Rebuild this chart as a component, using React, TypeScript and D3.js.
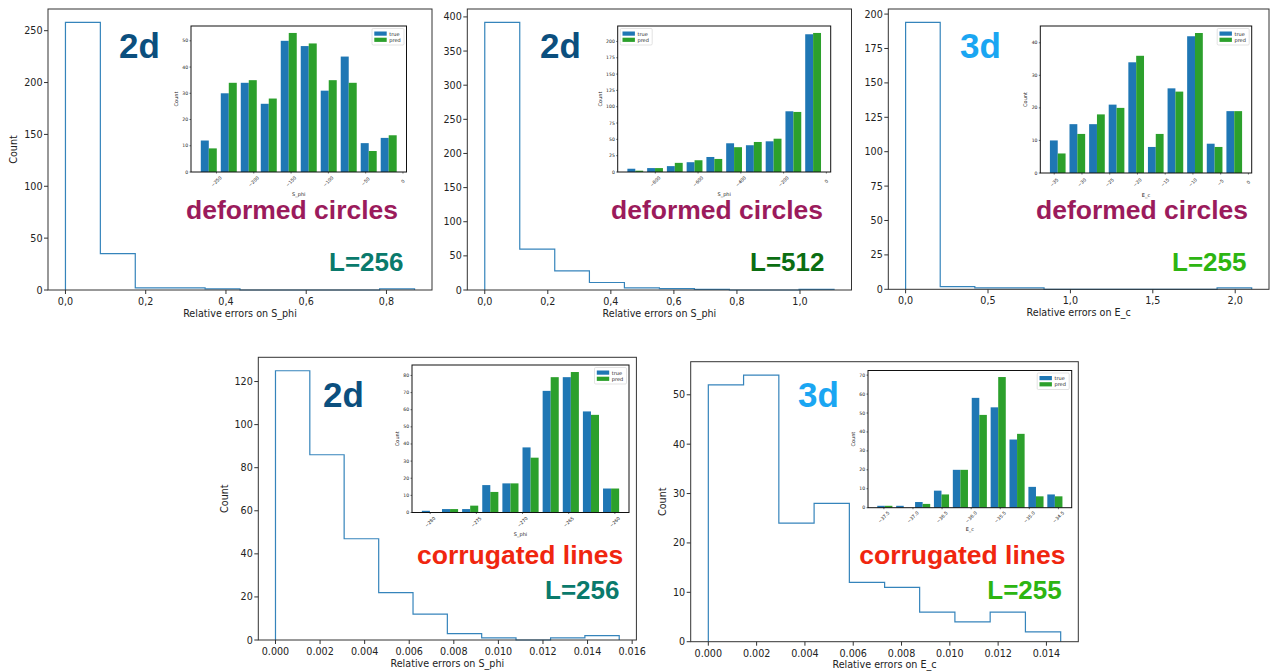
import { curveStepAfter, line, max, scaleLinear } from "d3";

// ---- panel A: 2d, deformed circles, L=256 ----
const errEdgesA = [0, 0.087, 0.174, 0.261, 0.348, 0.435, 0.522, 0.609, 0.696, 0.783, 0.87];
const errCountsA = [258, 35, 2, 2, 1, 0, 0, 0, 0, 1];
const errTicksA = [0, 0.2, 0.4, 0.6, 0.8];
const countTicksA = [0, 50, 100, 150, 200, 250];
const binCentersA = [-260.3, -233.5, -206.7, -179.9, -153.1, -126.3, -99.5, -72.7, -45.9, -19.1];
const trueCountsA = [12, 30, 34, 26, 50, 48, 31, 44, 11, 13];
const predCountsA = [9, 34, 35, 28, 53, 49, 35, 34, 8, 14];
const insetXTicksA = [-250, -200, -150, -100, -50, 0];
const insetYTicksA = [0, 10, 20, 30, 40, 50];

// ---- panel B: 2d, deformed circles, L=512 ----
const errEdgesB = [0, 0.111, 0.222, 0.332, 0.443, 0.554, 0.665, 0.776, 0.886, 0.997, 1.108];
const errCountsB = [392, 60, 28, 11, 3, 2, 1, 0, 0, 1];
const errTicksB = [0, 0.2, 0.4, 0.6, 0.8, 1.0];
const countTicksB = [0, 50, 100, 150, 200, 250, 300, 350, 400];
const binCentersB = [-893.6, -801.2, -708.8, -616.4, -524.0, -431.6, -339.2, -246.8, -154.4, -62.0];
const trueCountsB = [5, 6, 9, 15, 23, 44, 41, 47, 93, 211];
const predCountsB = [2, 6, 14, 18, 20, 38, 46, 51, 92, 213];
const insetXTicksB = [-800, -600, -400, -200, 0];
const insetYTicksB = [0, 25, 50, 75, 100, 125, 150, 175, 200];

// ---- panel C: 3d, deformed circles, L=255 ----
const errEdgesC = [0, 0.21, 0.42, 0.63, 0.84, 1.05, 1.26, 1.47, 1.68, 1.89, 2.1];
const errCountsC = [194, 2, 1, 1, 0, 0, 0, 0, 0, 1];
const errTicksC = [0, 0.5, 1.0, 1.5, 2.0];
const countTicksC = [0, 25, 50, 75, 100, 125, 150, 175, 200];
const binCentersC = [-34.37, -30.84, -27.3, -23.77, -20.23, -16.7, -13.16, -9.63, -6.09, -2.55];
const trueCountsC = [10, 15, 15, 21, 34, 8, 26, 42, 9, 19];
const predCountsC = [6, 12, 18, 20, 36, 12, 25, 43, 8, 19];
const insetXTicksC = [-35, -30, -25, -20, -15, -10, -5, 0];
const insetYTicksC = [0, 10, 20, 30, 40];

// ---- panel D: 2d, corrugated lines, L=256 ----
const errEdgesD = [0, 0.00154, 0.00308, 0.00463, 0.00617, 0.00771, 0.00925, 0.01079, 0.01234, 0.01388, 0.01542];
const errCountsD = [125, 86, 47, 22, 12, 3, 1, 0, 1, 2];
const errTicksD = [0, 0.002, 0.004, 0.006, 0.008, 0.01, 0.012, 0.014, 0.016];
const countTicksD = [0, 20, 40, 60, 80, 100, 120];
const binCentersD = [-280.03, -277.85, -275.67, -273.49, -271.31, -269.13, -266.95, -264.77, -262.59, -260.41];
const trueCountsD = [1, 2, 2, 16, 17, 38, 71, 79, 59, 14];
const predCountsD = [0, 2, 4, 12, 17, 32, 79, 82, 57, 14];
const insetXTicksD = [-280, -275, -270, -265, -260];
const insetYTicksD = [0, 10, 20, 30, 40, 50, 60, 70, 80];

// ---- panel E: 3d, corrugated lines, L=255 ----
const errEdgesE = [0, 0.00146, 0.00292, 0.00438, 0.00584, 0.0073, 0.00875, 0.01021, 0.01167, 0.01313, 0.01459];
const errCountsE = [52, 54, 24, 28, 12, 11, 6, 4, 6, 2];
const errTicksE = [0, 0.002, 0.004, 0.006, 0.008, 0.01, 0.012, 0.014];
const countTicksE = [0, 10, 20, 30, 40, 50];
const binCentersE = [-37.484, -37.159, -36.834, -36.51, -36.185, -35.86, -35.535, -35.211, -34.886, -34.561];
const trueCountsE = [1, 1, 3, 9, 20, 58, 53, 36, 11, 7];
const predCountsE = [1, 0, 2, 7, 20, 49, 69, 39, 6, 6];
const insetXTicksE = [-37.5, -37.0, -36.5, -36.0, -35.5, -35.0, -34.5];
const insetYTicksE = [0, 10, 20, 30, 40, 50, 60, 70];

const MPL_FONT = "'DejaVu Sans', sans-serif";
const TAG_FONT = "'Liberation Sans', Arial, Helvetica, sans-serif";
const TRUE_COLOR = "#1f77b4";
const PRED_COLOR = "#2ca02c";
const MINUS = "\u2212";

type Frame = { l: number; t: number; r: number; b: number };

function withMargin(lo: number, hi: number): [number, number] {
  const pad = (hi - lo) * 0.05;
  return [lo - pad, hi + pad];
}

function signed(text: string) {
  return text.replace("-", MINUS);
}

type HistProps = {
  frame: Frame;
  edges: number[];
  counts: number[];
  xTicks: number[];
  yTicks: number[];
  formatX: (v: number) => string;
  xLabel: string;
  showYLabel: boolean;
};

function ErrorHistogram({ frame, edges, counts, xTicks, yTicks, formatX, xLabel, showYLabel }: HistProps) {
  const last = edges.length - 1;
  const xScale = scaleLinear().domain(withMargin(edges[0], edges[last])).range([frame.l, frame.r]);
  const yScale = scaleLinear()
    .domain([0, (max(counts) ?? 1) * 1.05])
    .range([frame.b, frame.t]);

  const outline = [
    { x: edges[0], y: 0 },
    ...counts.map((c, i) => ({ x: edges[i], y: c })),
    { x: edges[last], y: counts[counts.length - 1] },
    { x: edges[last], y: 0 }
  ];
  const path = line<{ x: number; y: number }>()
    .x((p) => xScale(p.x))
    .y((p) => yScale(p.y))
    .curve(curveStepAfter)(outline);

  const widest = Math.max(...yTicks.map((t) => String(t).length));
  const yLabelX = frame.l - (5.5 + widest * 6.1 + 7);

  return (
    <g fontFamily={MPL_FONT} fill="#222">
      {path ? <path d={path} fill="none" stroke={TRUE_COLOR} strokeWidth={1.2} strokeOpacity={0.9} /> : null}
      <rect
        x={frame.l}
        y={frame.t}
        width={frame.r - frame.l}
        height={frame.b - frame.t}
        fill="none"
        stroke="#333"
        strokeWidth={1}
      />
      {yTicks.map((t) => (
        <g key={`y${t}`}>
          <line x1={frame.l - 4} x2={frame.l} y1={yScale(t)} y2={yScale(t)} stroke="#333" />
          <text x={frame.l - 5.5} y={yScale(t)} fontSize={9.6} textAnchor="end" dominantBaseline="central">
            {t}
          </text>
        </g>
      ))}
      {xTicks.map((t) => (
        <g key={`x${t}`}>
          <line x1={xScale(t)} x2={xScale(t)} y1={frame.b} y2={frame.b + 4} stroke="#333" />
          <text x={xScale(t)} y={frame.b + 15} fontSize={9.6} textAnchor="middle">
            {formatX(t)}
          </text>
        </g>
      ))}
      <text x={(frame.l + frame.r) / 2} y={frame.b + 26.5} fontSize={9.6} textAnchor="middle">
        {xLabel}
      </text>
      {showYLabel ? (
        <text
          transform={`translate(${yLabelX},${(frame.t + frame.b) / 2}) rotate(-90)`}
          fontSize={9.6}
          textAnchor="middle"
        >
          Count
        </text>
      ) : null}
    </g>
  );
}

type InsetProps = {
  frame: Frame;
  centers: number[];
  trueVals: number[];
  predVals: number[];
  xTicks: number[];
  yTicks: number[];
  formatX: (v: number) => string;
  xLabel: string;
  legendLeft?: boolean;
};

function TruePredInset({ frame, centers, trueVals, predVals, xTicks, yTicks, formatX, xLabel, legendLeft }: InsetProps) {
  const barWidth = (centers[1] - centers[0]) * 0.4;
  const lo = centers[0] - barWidth;
  const hi = centers[centers.length - 1] + barWidth;
  const xScale = scaleLinear().domain(withMargin(lo, hi)).range([frame.l, frame.r]);
  const yScale = scaleLinear()
    .domain([0, (max([...trueVals, ...predVals]) ?? 1) * 1.05])
    .range([frame.b, frame.t]);
  const px = xScale(centers[0]) - xScale(centers[0] - barWidth);

  const widest = Math.max(...yTicks.map((t) => String(t).length));
  const countX = frame.l - (9.3 + widest * 2.86);

  const boxW = 32;
  const boxH = 16.5;
  const boxX = legendLeft ? frame.l + 2.5 : frame.r - 2.5 - boxW;
  const boxY = frame.t + 2.5;

  return (
    <g fontFamily={MPL_FONT} fill="#222">
      <rect x={frame.l} y={frame.t} width={frame.r - frame.l} height={frame.b - frame.t} fill="#fff" />
      {centers.map((c, i) => (
        <g key={`bar${i}`}>
          <rect
            x={xScale(c - barWidth)}
            y={yScale(trueVals[i])}
            width={px}
            height={frame.b - yScale(trueVals[i])}
            fill={TRUE_COLOR}
          />
          <rect
            x={xScale(c)}
            y={yScale(predVals[i])}
            width={px}
            height={frame.b - yScale(predVals[i])}
            fill={PRED_COLOR}
          />
        </g>
      ))}
      <rect
        x={frame.l}
        y={frame.t}
        width={frame.r - frame.l}
        height={frame.b - frame.t}
        fill="none"
        stroke="#111"
        strokeWidth={1}
      />
      {yTicks.map((t) => (
        <g key={`iy${t}`}>
          <line x1={frame.l - 1.5} x2={frame.l} y1={yScale(t)} y2={yScale(t)} stroke="#111" strokeWidth={0.6} />
          <text x={frame.l - 2.8} y={yScale(t)} fontSize={4.6} textAnchor="end" dominantBaseline="central">
            {t}
          </text>
        </g>
      ))}
      {xTicks.map((t) => (
        <g key={`ix${t}`}>
          <line x1={xScale(t)} x2={xScale(t)} y1={frame.b} y2={frame.b + 1.5} stroke="#111" strokeWidth={0.6} />
          <text
            transform={`translate(${xScale(t)},${frame.b + 9.5}) rotate(-45)`}
            fontSize={4.6}
            textAnchor="middle"
            dominantBaseline="central"
          >
            {formatX(t)}
          </text>
        </g>
      ))}
      <text x={(frame.l + frame.r) / 2} y={frame.b + 23.5} fontSize={5} textAnchor="middle">
        {xLabel}
      </text>
      <text
        transform={`translate(${countX},${(frame.t + frame.b) / 2}) rotate(-90)`}
        fontSize={5}
        textAnchor="middle"
        dominantBaseline="central"
      >
        Count
      </text>
      <rect x={boxX} y={boxY} width={boxW} height={boxH} rx={1.2} fill="#fff" fillOpacity={0.85} stroke="#d0d0d0" strokeWidth={0.6} />
      {[
        { name: "true", color: TRUE_COLOR },
        { name: "pred", color: PRED_COLOR }
      ].map((item, i) => (
        <g key={item.name}>
          <rect x={boxX + 2.3} y={boxY + 3 + i * 6.2} width={12.4} height={4.2} fill={item.color} />
          <text x={boxX + 17.3} y={boxY + 5.1 + i * 6.2} fontSize={5} dominantBaseline="central">
            {item.name}
          </text>
        </g>
      ))}
    </g>
  );
}

type TagProps = { x: number; y: number; size: number; color: string; text: string };

function Tag({ x, y, size, color, text }: TagProps) {
  return (
    <text x={x} y={y} fontFamily={TAG_FONT} fontWeight="bold" fontSize={size} fill={color}>
      {text}
    </text>
  );
}

const comma1 = (v: number) => v.toFixed(1).replace(".", ",");
const fixed3 = (v: number) => v.toFixed(3);
const intTick = (v: number) => signed(String(v));
const oneDec = (v: number) => signed(v.toFixed(1));

const DIM_BLUE = "#0b4f7e";
const SKY_BLUE = "#1aa6f2";
const PLUM = "#9b1b5c";
const RED = "#f0260f";
const TEAL = "#0a7a6c";
const DARK_GREEN = "#0b6e12";
const LIME = "#2db512";

export default function App() {
  return (
    <svg
      width={1270}
      height={671}
      viewBox="0 0 1270 671"
      style={{ position: "absolute", left: 0, top: 0, background: "#fff" }}
    >
      {/* top row */}
      <ErrorHistogram
        frame={{ l: 48, t: 9, r: 432, b: 290 }}
        edges={errEdgesA}
        counts={errCountsA}
        xTicks={errTicksA}
        yTicks={countTicksA}
        formatX={comma1}
        xLabel="Relative errors on S_phi"
        showYLabel
      />
      <TruePredInset
        frame={{ l: 191, t: 26, r: 406.5, b: 172 }}
        centers={binCentersA}
        trueVals={trueCountsA}
        predVals={predCountsA}
        xTicks={insetXTicksA}
        yTicks={insetYTicksA}
        formatX={intTick}
        xLabel="S_phi"
      />
      <Tag x={119} y={58} size={35} color={DIM_BLUE} text="2d" />
      <Tag x={186} y={219} size={26.5} color={PLUM} text="deformed circles" />
      <Tag x={329} y={271} size={26} color={TEAL} text="L=256" />

      <ErrorHistogram
        frame={{ l: 467.3, t: 9, r: 851.5, b: 290 }}
        edges={errEdgesB}
        counts={errCountsB}
        xTicks={errTicksB}
        yTicks={countTicksB}
        formatX={comma1}
        xLabel="Relative errors on S_phi"
        showYLabel={false}
      />
      <TruePredInset
        frame={{ l: 617.7, t: 26, r: 830.7, b: 172 }}
        centers={binCentersB}
        trueVals={trueCountsB}
        predVals={predCountsB}
        xTicks={insetXTicksB}
        yTicks={insetYTicksB}
        formatX={intTick}
        xLabel="S_phi"
        legendLeft
      />
      <Tag x={540} y={58} size={35} color={DIM_BLUE} text="2d" />
      <Tag x={611} y={219} size={26.5} color={PLUM} text="deformed circles" />
      <Tag x={750} y={271} size={26} color={DARK_GREEN} text="L=512" />

      <ErrorHistogram
        frame={{ l: 888.3, t: 9, r: 1269, b: 289.3 }}
        edges={errEdgesC}
        counts={errCountsC}
        xTicks={errTicksC}
        yTicks={countTicksC}
        formatX={comma1}
        xLabel="Relative errors on E_c"
        showYLabel={false}
      />
      <TruePredInset
        frame={{ l: 1040.3, t: 26, r: 1251.7, b: 173 }}
        centers={binCentersC}
        trueVals={trueCountsC}
        predVals={predCountsC}
        xTicks={insetXTicksC}
        yTicks={insetYTicksC}
        formatX={intTick}
        xLabel="E_c"
      />
      <Tag x={960} y={58} size={35} color={SKY_BLUE} text="3d" />
      <Tag x={1036} y={219} size={26.5} color={PLUM} text="deformed circles" />
      <Tag x={1172} y={271} size={26} color={LIME} text="L=255" />

      {/* bottom row */}
      <ErrorHistogram
        frame={{ l: 258.3, t: 357.3, r: 636.4, b: 640 }}
        edges={errEdgesD}
        counts={errCountsD}
        xTicks={errTicksD}
        yTicks={countTicksD}
        formatX={fixed3}
        xLabel="Relative errors on S_phi"
        showYLabel
      />
      <TruePredInset
        frame={{ l: 412, t: 365, r: 629, b: 512.5 }}
        centers={binCentersD}
        trueVals={trueCountsD}
        predVals={predCountsD}
        xTicks={insetXTicksD}
        yTicks={insetYTicksD}
        formatX={intTick}
        xLabel="S_phi"
      />
      <Tag x={323} y={406.7} size={35} color={DIM_BLUE} text="2d" />
      <Tag x={417} y={563.5} size={26.5} color={RED} text="corrugated lines" />
      <Tag x={545} y={599.3} size={26} color={TEAL} text="L=256" />

      <ErrorHistogram
        frame={{ l: 690.7, t: 361.7, r: 1078.3, b: 641.7 }}
        edges={errEdgesE}
        counts={errCountsE}
        xTicks={errTicksE}
        yTicks={countTicksE}
        formatX={fixed3}
        xLabel="Relative errors on E_c"
        showYLabel
      />
      <TruePredInset
        frame={{ l: 868, t: 370.5, r: 1071.7, b: 507.7 }}
        centers={binCentersE}
        trueVals={trueCountsE}
        predVals={predCountsE}
        xTicks={insetXTicksE}
        yTicks={insetYTicksE}
        formatX={oneDec}
        xLabel="E_c"
      />
      <Tag x={798} y={406.7} size={35} color={SKY_BLUE} text="3d" />
      <Tag x={859.3} y={563.5} size={26.5} color={RED} text="corrugated lines" />
      <Tag x={987.3} y={599.3} size={26} color={LIME} text="L=255" />
    </svg>
  );
}
